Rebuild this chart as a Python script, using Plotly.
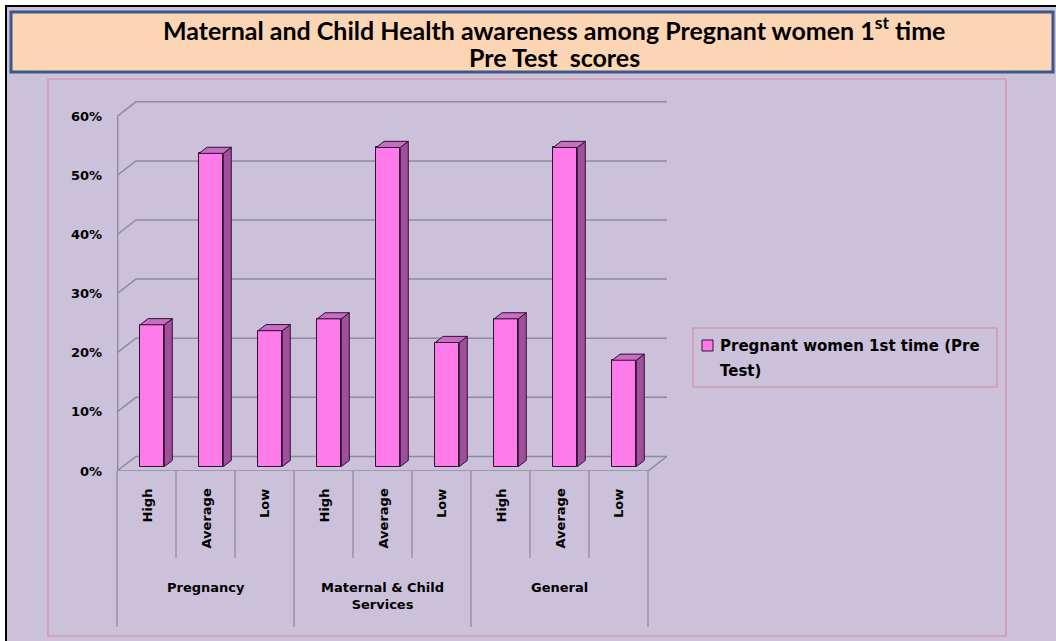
import plotly.graph_objects as go

# ---------------- data ----------------
groups = ["Pregnancy", "Maternal & Child<br>Services", "General"]
levels = ["High", "Average", "Low"]
values = [24, 53, 23, 25, 54, 21, 25, 54, 18]   # percent, Pre Test
series_name = "Pregnant women 1st time (Pre<br>Test)"
y_ticks = [0, 10, 20, 30, 40, 50, 60]
y_tick_text = ["0%", "10%", "20%", "30%", "40%", "50%", "60%"]

# ---------------- geometry ----------------
W, H = 1056, 641
ML, MR, MT, MB = 117, 389, 101, 170
PW, PH = W - ML - MR, H - MT - MB
n = len(values)
SLOT = 59.0
X0 = -0.5
X1 = X0 + PW / SLOT
PXY = 5.91
Y1 = PH / PXY
DX = 19 / SLOT          # depth offset of back wall (x units)
DY = 14.6 / PXY         # depth offset of back wall (y units)
F = 0.3                 # bar front plane depth fraction
D = 0.42                # bar depth fraction
BW = 0.41

def px(xp):
    return (xp - ML) / PW

def py(yp):
    return (H - MB - yp) / PH

def dx2paper(x):
    return (x - X0) / (X1 - X0)

BG = "#CCC1DA"
GRID = "#8F8A9E"
FRONT = "#FF7BEA"
SIDE = "#A24E9C"
TOP = "#C96DC3"
EDGE = "#2B1230"
PINK_BORDER = "#D98A9E"
TITLE_FONT = "Lato, Liberation Sans Narrow, Roboto, Arial"

fig = go.Figure()

xs = list(range(n))
xf = [x + F * DX for x in xs]
base = F * DY

# side faces & top faces as polygons
sx, sy, tx, ty = [], [], [], []
for x, v in zip(xf, values):
    r = x + BW / 2
    l = x - BW / 2
    top = base + v
    sx += [r, r + D * DX, r + D * DX, r, r, None]
    sy += [base, base + D * DY, top + D * DY, top, base, None]
    tx += [l, r, r + D * DX, l + D * DX, l, None]
    ty += [top, top, top + D * DY, top + D * DY, top, None]

fig.add_trace(go.Scatter(x=sx, y=sy, fill="toself", fillcolor=SIDE, mode="lines",
                         line=dict(color=EDGE, width=1), hoverinfo="skip", showlegend=False))
fig.add_trace(go.Scatter(x=tx, y=ty, fill="toself", fillcolor=TOP, mode="lines",
                         line=dict(color=EDGE, width=1), hoverinfo="skip", showlegend=False))
fig.add_trace(go.Bar(x=xf, y=values, base=base, width=BW, name=series_name,
                     marker=dict(color=FRONT, line=dict(color=EDGE, width=1)),
                     showlegend=False))

shapes = []
# outer frame
shapes.append(dict(type="rect", xref="paper", yref="paper", x0=px(6), x1=px(1062), y0=py(6), y1=py(648),
                   fillcolor=BG, line=dict(color="black", width=2), layer="below"))
# title box
shapes.append(dict(type="rect", xref="paper", yref="paper", x0=px(11), x1=px(1053), y0=py(12), y1=py(72),
                   fillcolor="#FCD5B5", line=dict(color="#3A5A8C", width=3), layer="below"))
# chart area border
shapes.append(dict(type="rect", xref="paper", yref="paper", x0=px(48), x1=px(1006), y0=py(79), y1=py(636),
                   fillcolor="rgba(0,0,0,0)", line=dict(color=PINK_BORDER, width=1.2), layer="below"))
# gridlines on the back wall plus connectors
for v in y_ticks:
    shapes.append(dict(type="path", xref="x", yref="y",
                       path=f"M {X0},{v} L {X0+DX},{v+DY} L {n-0.5+DX},{v+DY}",
                       line=dict(color=GRID, width=1.5), layer="below"))
# front vertical axis line
shapes.append(dict(type="line", xref="x", yref="y", x0=X0 + 0.01, x1=X0 + 0.01, y0=0, y1=60,
                   line=dict(color=GRID, width=1.5), layer="below"))
# floor front edge and right edge
shapes.append(dict(type="path", xref="x", yref="y",
                   path=f"M {X0},0 L {n-0.5},0 L {n-0.5+DX},{DY}",
                   line=dict(color=GRID, width=1.5), layer="below"))
# category separator lines
for k in range(n + 1):
    xb = dx2paper(k - 0.5)
    bottom = 627 if k % 3 == 0 else 558
    shapes.append(dict(type="line", xref="paper", yref="paper", x0=xb, x1=xb, y0=py(471), y1=py(bottom),
                       line=dict(color=GRID, width=1.3), layer="below"))
# legend box and marker
shapes.append(dict(type="rect", xref="paper", yref="paper", x0=px(693), x1=px(997), y0=py(328), y1=py(387),
                   fillcolor="rgba(0,0,0,0)", line=dict(color=PINK_BORDER, width=1.2)))
shapes.append(dict(type="rect", xref="paper", yref="paper", x0=px(702), x1=px(713), y0=py(340), y1=py(351),
                   fillcolor=FRONT, line=dict(color=EDGE, width=1)))

annotations = []
# title
annotations.append(dict(xref="paper", yref="paper", x=px(554), y=py(28), xanchor="center", yanchor="middle",
                        text="<b>Maternal and Child Health awareness among Pregnant women 1<sup>st</sup> time</b>",
                        showarrow=False, font=dict(family=TITLE_FONT, size=25, color="black")))
annotations.append(dict(xref="paper", yref="paper", x=px(554), y=py(57), xanchor="center", yanchor="middle",
                        text="<b>Pre Test  scores</b>",
                        showarrow=False, font=dict(family=TITLE_FONT, size=25, color="black")))
# level labels
for i in range(n):
    annotations.append(dict(xref="x", yref="paper", x=i, y=py(487), xanchor="center", yanchor="top",
                            text="<b>" + levels[i % 3] + "</b>", textangle=-90, showarrow=False,
                            font=dict(family="DejaVu Sans", size=13, color="black")))
# group labels
for g, name in enumerate(groups):
    annotations.append(dict(xref="x", yref="paper", x=3 * g + 1, y=py(578), xanchor="center", yanchor="top",
                            text="<b>" + name + "</b>", showarrow=False,
                            font=dict(family="DejaVu Sans", size=13, color="black")))
# legend text
leg_lines = series_name.split("<br>")
annotations.append(dict(xref="paper", yref="paper", x=px(718), y=py(346), xanchor="left", yanchor="middle",
                        text="<b>" + leg_lines[0] + "</b>", showarrow=False,
                        font=dict(family="DejaVu Sans", size=15, color="black")))
annotations.append(dict(xref="paper", yref="paper", x=px(718), y=py(371), xanchor="left", yanchor="middle",
                        text="<b>" + leg_lines[1] + "</b>", showarrow=False,
                        font=dict(family="DejaVu Sans", size=15, color="black")))

fig.update_layout(
    width=W, height=H,
    margin=dict(l=ML, r=MR, t=MT, b=MB, pad=0),
    paper_bgcolor="white", plot_bgcolor="rgba(0,0,0,0)",
    shapes=shapes, annotations=annotations,
    showlegend=False,
    xaxis=dict(range=[X0, X1], showgrid=False, zeroline=False, showticklabels=False, showline=False,
               fixedrange=True),
    yaxis=dict(range=[0, Y1], showgrid=False, zeroline=False, showline=False, tickmode="array",
               tickvals=y_ticks, ticktext=["<b>" + t + "</b>" for t in y_tick_text], ticks="",
               ticklabelstandoff=14, tickfont=dict(family="DejaVu Sans", size=13, color="black"),
               fixedrange=True),
    bargap=0,
)

fig.write_html("out.html")
